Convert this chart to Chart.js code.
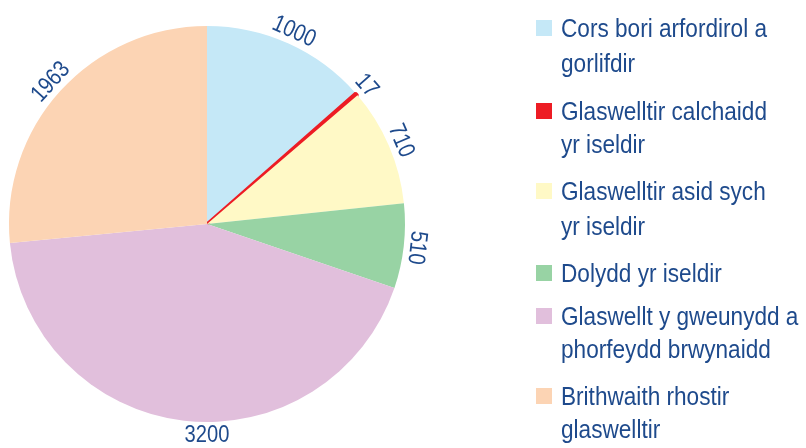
<!DOCTYPE html>
<html><head><meta charset="utf-8">
<script src="https://cdn.jsdelivr.net/npm/chart.js@4/dist/chart.umd.min.js"></script>
<style>html,body{margin:0;padding:0;background:#fff;}#wrap{width:806px;height:448px;position:relative;}</style>
</head><body><div id="wrap"><canvas id="c" width="806" height="448"></canvas></div>
<script>
const categories = [
  ["Cors bori arfordirol a", "gorlifdir"],
  ["Glaswelltir calchaidd", "yr iseldir"],
  ["Glaswelltir asid sych", "yr iseldir"],
  ["Dolydd yr iseldir"],
  ["Glaswellt y gweunydd a", "phorfeydd brwynaidd"],
  ["Brithwaith rhostir", "glaswelltir"]
];
const values = [1000, 17, 710, 510, 3200, 1963];
const colors = ["#C5E8F7", "#ED1C24", "#FFF9C6", "#98D3A4", "#E1BFDC", "#FCD4B4"];
const textColor = "#1E4A8C";
const FONT = "'Liberation Sans', Arial, sans-serif";

function condensedText(ctx, text, x, y, size, sx) {
  ctx.save();
  ctx.font = size + "px " + FONT;
  ctx.translate(x, y);
  ctx.scale(sx, 1);
  ctx.fillText(text, 0, 0);
  ctx.restore();
}

const labelPlugin = {
  id: 'arcLabels',
  afterDatasetsDraw(chart) {
    const ctx = chart.ctx;
    const meta = chart.getDatasetMeta(0);
    meta.data.forEach((arc, i) => {
      const p = arc.getProps(['x','y','startAngle','endAngle','outerRadius'], true);
      let mid = (p.startAngle + p.endAngle) / 2;
      // if slice covers the bottom, anchor label at the bottom
      if (p.startAngle < Math.PI/2 && p.endAngle > Math.PI/2) mid = Math.PI/2;
      const r = p.outerRadius + 13;
      const x = p.x + Math.cos(mid) * r;
      const y = p.y + Math.sin(mid) * r;
      let rot = mid + Math.PI/2; // tangent
      let deg = ((rot * 180/Math.PI) % 360 + 360) % 360;
      if (deg > 135 && deg < 225) rot -= Math.PI;
      ctx.save();
      ctx.translate(x, y);
      ctx.rotate(rot);
      ctx.fillStyle = textColor;
      ctx.textAlign = 'center';
      ctx.textBaseline = 'middle';
      ctx.font = "24px " + FONT;
      ctx.scale(0.84, 1);
      ctx.fillText(String(values[i]), 0, 0);
      ctx.restore();
    });
  }
};

const legendPlugin = {
  id: 'sideLegend',
  afterDraw(chart) {
    const ctx = chart.ctx;
    const baselines = [[37,72],[120,153],[200,235],[282],[325,358],[405,438]];
    ctx.save();
    ctx.font = "26px " + FONT;
    const sx = 206 / ctx.measureText("Cors bori arfordirol a").width;
    ctx.textBaseline = 'alphabetic';
    ctx.textAlign = 'left';
    categories.forEach((lines, i) => {
      ctx.fillStyle = colors[i];
      ctx.fillRect(536, baselines[i][0] - 17, 16, 16);
      ctx.fillStyle = textColor;
      lines.forEach((t, j) => condensedText(ctx, t, 561, baselines[i][j], 26, sx));
    });
    ctx.restore();
  }
};

new Chart(document.getElementById('c'), {
  type: 'pie',
  data: {
    labels: categories.map(l => l.join(' ')),
    datasets: [{
      data: values,
      backgroundColor: colors,
      borderColor: colors,
      borderWidth: [0, 3, 0, 0, 0, 0]
    }]
  },
  options: {
    responsive: false,
    animation: false,
    layout: { padding: { left: 7.5, right: 399.5, top: 24.5, bottom: 24.5 } },
    plugins: { legend: { display: false }, tooltip: { enabled: false } }
  },
  plugins: [labelPlugin, legendPlugin]
});
</script></body></html>
